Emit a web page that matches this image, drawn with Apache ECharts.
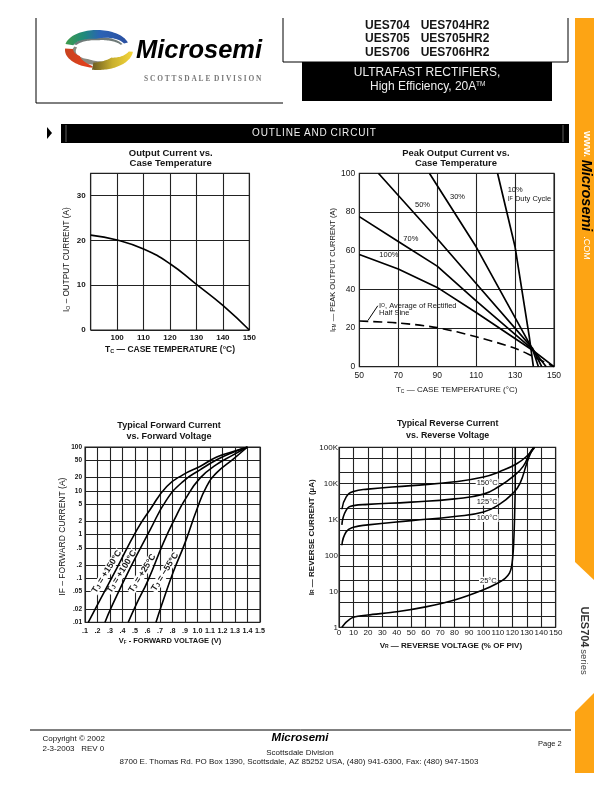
<!DOCTYPE html>
<html><head><meta charset="utf-8">
<style>html,body{margin:0;padding:0;background:#fff}#c{width:612px;height:792px}</style>
<script src="https://cdn.jsdelivr.net/npm/echarts@6/dist/echarts.min.js"></script>
</head><body><div id="c"></div>
<script>
// ---- Output Current vs. Case Temperature
var outputCurrent = [[90,21.2],[100,20.1],[110,18.1],[120,14.8],[130,10.2],[140,5.5],[150,0]];
// ---- Peak Output Current vs. Case Temperature
var duty10 = [[121,100],[130,62],[137.3,15.5],[139.4,0]];
var duty30 = [[86,100],[110,62],[139,9],[142,0]];
var duty50 = [[59.8,100],[90.6,65.5],[110,43],[139,9.5],[143.7,0]];
var duty70 = [[50,77.6],[70,64.7],[90,52],[110,34],[139,9],[146,0]];
var duty100 = [[50,58],[70,50.5],[90,41],[110,28],[139,8.5],[150,0]];
var averageIo = [[50,23.6],[70,22.6],[90,20.2],[110,15.5],[130,9.5],[139.4,5.2],[150,0]];
var ioLeader = [[54.5,24],[59.5,31.5]];
// ---- Typical Forward Current vs. Forward Voltage
var forward150 = [[.126,.01],[.193,.023],[.354,.17],[.514,1.27],[.62,3.7],[.754,12.6],[.886,23.5],[1.02,36],[1.154,59],[1.286,79],[1.4,100]];
var forward100 = [[.26,.01],[.314,.023],[.46,.17],[.62,1.27],[.754,6.3],[.886,16.5],[1.02,30],[1.154,51],[1.286,76],[1.4,100]];
var forward25 = [[.446,.01],[.514,.027],[.606,.093],[.727,.65],[.833,2.8],[.9,6.3],[1.02,19.5],[1.154,40],[1.286,66],[1.4,100]];
var forwardM55 = [[.668,.01],[.714,.025],[.806,.14],[.9,.65],[.994,3.7],[1.073,12.6],[1.154,26],[1.286,53],[1.4,100]];
// ---- Typical Reverse Current vs. Reverse Voltage
var reverse150 = [[2,1900],[5,4200],[10,5900],[20,6900],[50,8600],[80,11000],[100,15000],[111,21000],[123,35000],[131,62000],[135.5,100000]];
var reverse125 = [[2,700],[5,1800],[10,2400],[20,2600],[50,3000],[80,3700],[100,5000],[111,8300],[120.6,15600],[127.6,30000],[132,69000],[135,100000]];
var reverse100 = [[2,190],[5,450],[10,600],[20,700],[50,920],[80,1200],[100,1600],[111,2600],[120.6,5400],[125.3,10000],[130,36000],[132.2,62000],[134.7,100000]];
var reverse25 = [[2,1],[5,1.4],[10,1.9],[20,2.2],[40,2.7],[60,3.7],[80,5.7],[100,11],[110,17],[115,23],[118,32],[119.5,50],[120.7,150],[121.5,1000],[122,10000],[122,100000]];
// ---- Ticks
var forwardTicks = [.01,.02,.05,.1,.2,.5,1,2,5,10,20,50,100];
var reverseTicks = [1,2,5,10,20,50,100,200,500,1000,2000,5000,10000,20000,50000,100000];
var reverseLabels = [1,10,100,1000,10000,100000];

var SANS = '"Liberation Sans", Arial, sans-serif', INK = '#151515', GRID = '#222';
var layouts = [
  {left:90.7,top:173.3,width:158.6,height:156.7},
  {left:359.3,top:173.3,width:194.7,height:193.4},
  {left:85,top:447,width:175,height:175.3},
  {left:339,top:447.3,width:216.7,height:180}
];
function split(c,w){return {show:true,lineStyle:{color:c||GRID,width:w||1.1}};}
var common = {axisLine:{show:false},axisTick:{show:false},splitLine:split(),nameLocation:'middle'};
function ax(o){return Object.assign({},common,o);}
function nameStyle(size,pad,bold){
  return {fontFamily:SANS,fontSize:size,color:INK,fontWeight:bold?'bold':'normal',padding:pad,
    rich:{n:{fontFamily:SANS,fontSize:size,color:INK,fontWeight:bold?'bold':'normal'},
          s:{fontFamily:SANS,fontSize:size-3,color:INK,verticalAlign:'bottom',padding:[3,0,0,0]}}};
}
function lab(size,bold,margin,fmt,extra){
  return Object.assign({fontFamily:SANS,fontSize:size,color:INK,fontWeight:bold?'bold':'normal',margin:margin,formatter:fmt,hideOverlap:false},extra||{});
}
var line = function(idx,data,w,extra){
  return Object.assign({type:'line',xAxisIndex:idx,yAxisIndex:idx,data:data,symbol:'none',silent:true,
    lineStyle:{color:'#000',width:w||1.5},z:25},extra||{});
};
var curve = {smooth:0.5};

var option = {
  animation:false,backgroundColor:'#fff',
  grid:layouts.map(function(g){return Object.assign({show:true,borderColor:GRID,borderWidth:1.1,backgroundColor:'transparent',containLabel:false},g);}),
  xAxis:[
    ax({gridIndex:0,type:'value',min:90,max:150,interval:10,
      axisLabel:lab(8,true,4,function(v){return v===90?'':v;}),
      name:'{n|T}{s|C}{n| — CASE TEMPERATURE (°C)}',nameGap:15,nameTextStyle:nameStyle(8.5,[0,0,0,0],true)}),
    ax({gridIndex:1,type:'value',min:50,max:150,interval:20,
      axisLabel:lab(8.5,false,4),
      name:'{n|T}{s|C}{n| — CASE TEMPERATURE (°C)}',nameGap:19,nameTextStyle:nameStyle(8,[0,0,0,0],false)}),
    ax({gridIndex:2,type:'value',min:.1,max:1.5,interval:.1,
      axisLabel:lab(7.2,true,5,function(v){return v<0.99?v.toFixed(1).slice(1):v.toFixed(1);},{interval:0}),
      name:'{n|V}{s|F}{n| - FORWARD VOLTAGE (V)}',nameGap:15,nameTextStyle:nameStyle(7.5,[0,5,0,0],true)}),
    ax({gridIndex:3,type:'value',min:0,max:150,interval:10,
      axisLabel:lab(8,false,1,undefined,{interval:0}),
      name:'{n|V}{s|R}{n| — REVERSE VOLTAGE (% OF PIV)}',nameGap:14,nameTextStyle:nameStyle(8,[0,0,0,7],true)})
  ],
  yAxis:[
    ax({gridIndex:0,type:'value',min:0,max:35,interval:10,
      axisLabel:lab(8,true,5,function(v){return v>30?'':v;}),
      name:'{n|I}{s|O}{n| – OUTPUT CURRENT (A)}',nameGap:20,nameTextStyle:nameStyle(8.2,[0,16,0,0],false)}),
    ax({gridIndex:1,type:'value',min:0,max:100,interval:20,
      axisLabel:lab(8.5,false,4),
      name:'{n|I}{s|FM}{n| — PEAK OUTPUT CURRENT (A)}',nameGap:18,nameTextStyle:nameStyle(7.5,[0,0,0,0],false)}),
    ax({gridIndex:2,type:'log',logBase:10,min:.01,max:100,
      axisTick:{show:false,customValues:forwardTicks},
      axisLabel:lab(6.5,true,3,function(v){var s=String(+Number(v).toPrecision(3));return s.replace(/^0\./,'.');},{customValues:forwardTicks}),
      name:'IF – FORWARD CURRENT (A)',nameGap:11,nameTextStyle:nameStyle(8.5,[0,4,0,0],false)}),
    ax({gridIndex:3,type:'log',logBase:10,min:1,max:100000,
      axisTick:{show:false,customValues:reverseTicks},
      axisLabel:lab(8,false,1,function(v){v=+Number(v).toPrecision(3);return v>=1000?(v/1000)+'K':String(v);},{customValues:reverseLabels}),
      name:'{n|I}{s|R}{n| — REVERSE CURRENT (µA)}',nameGap:14,nameTextStyle:nameStyle(8,[0,0,0,0],true)})
  ],
  series:[
    line(0,outputCurrent,1.6,curve),
    line(1,duty10,1.7),line(1,duty30,1.7),line(1,duty50,1.7),line(1,duty70,1.7),line(1,duty100,1.7),
    line(1,averageIo,1.6,{smooth:0.3,lineStyle:{color:'#000',width:1.6,type:[9,5]}}),
    line(1,ioLeader,1),
    line(2,forward150,1.6,curve),line(2,forward100,1.6,curve),line(2,forward25,1.6,curve),line(2,forwardM55,1.6,curve),
    line(3,reverse150,1.6,curve),line(3,reverse125,1.6,curve),line(3,reverse100,1.6,curve),line(3,reverse25,1.6,{smooth:0.25})
  ]
};

// ---- page furniture
function T(x,y,str,size,o){
  o=o||{};
  var st={text:str,x:x,y:y,fontFamily:o.family||SANS,fontSize:size,fontWeight:o.bold?'bold':'normal',fontStyle:o.italic?'italic':'normal',
    fill:o.fill||INK,textAlign:o.align||'left',textVerticalAlign:'middle',verticalAlign:'middle'};
  if(o.bg){st.backgroundColor=o.bg;st.padding=[0,1,0,1];}
  if(o.rich)st.rich=o.rich;
  var el={type:'text',z:o.z||20,silent:true,style:st};
  if(o.rot){el.style.x=0;el.style.y=0;el.x=x;el.y=y;el.rotation=o.rot*Math.PI/180;}
  return el;
}
function R(x,y,w,h,fill,z){return {type:'rect',silent:true,z:z||1,shape:{x:x,y:y,width:w,height:h},style:{fill:fill}};}
function L(x1,y1,x2,y2,c,w){return {type:'line',silent:true,z:2,shape:{x1:x1,y1:y1,x2:x2,y2:y2},style:{stroke:c||'#000',lineWidth:w||1}};}
function P(pts,fill,z){return {type:'polygon',silent:true,z:z||3,shape:{points:pts},style:{fill:fill}};}
function band(cx,cy,rx,ry,a0,a1,w0,wm,w1){
  var out=[],inn=[],n=40;
  for(var i=0;i<=n;i++){var t=i/n,a=(a0+(a1-a0)*t)*Math.PI/180;
    var w=t<.5?w0+(wm-w0)*t*2:wm+(w1-wm)*(t-.5)*2;
    out.push([cx+rx*Math.cos(a),cy+ry*Math.sin(a)]);
    inn.unshift([cx+(rx-w)*Math.cos(a),cy+(ry-w*.8)*Math.sin(a)]);}
  return out.concat(inn);
}
function grad(x0,x1,stops){return {type:'linear',x:x0,y:0,x2:x1,y2:0,colorStops:stops.map(function(s){return {offset:s[0],color:s[1]};}),global:false};}
var sub={t:{fontFamily:SANS,fontSize:8.8,fontWeight:'bold',fill:INK},s:{fontFamily:SANS,fontSize:6,fontWeight:'bold',fill:INK,verticalAlign:'bottom'}};
var sub2={t:{fontFamily:SANS,fontSize:7.5,fill:INK},s:{fontFamily:SANS,fontSize:5,fill:INK}};
var G=[
  // header frames
  L(36,18,36,103),L(36,103,283,103),L(283,18,283,62),L(283,62,568,62),L(568,18,568,62),
  R(302,62,250,39,'#000'),
  T(427,72.5,'ULTRAFAST RECTIFIERS,',12,{fill:'#eee',align:'center'}),
  T(370,87,'High Efficiency, 20A',12,{fill:'#eee'}),
  T(476,84.5,'TM',6.5,{fill:'#eee'}),
  T(365,26,'UES704',12,{bold:true}),T(420.7,26,'UES704HR2',12,{bold:true}),
  T(365,39,'UES705',12,{bold:true}),T(420.7,39,'UES705HR2',12,{bold:true}),
  T(365,52.5,'UES706',12,{bold:true}),T(420.7,52.5,'UES706HR2',12,{bold:true}),
  // logo
  P(band(98,52,26,13,30,205,2,6,3),'#8a8a80',2),
  P(band(98,48,26,11,200,340,3,4,2),'#6f7a78',2),
  P(band(97,47,32,17,190,345,8,11,4),grad(0,1,[[0,'#3f9b4a'],[.3,'#1f8a7c'],[.55,'#2a63b5'],[1,'#2b4fa0']]),3),
  P(band(98,50,33,18,100,185,2,10,8),grad(0,1,[[0,'#c8431f'],[.8,'#e2401c'],[1,'#d2391c']]),3),
  P(band(98,50,35,20,5,100,4,13,9),grad(0,1,[[0,'#6b5a20'],[.5,'#c9b02e'],[1,'#f5d63a']]),3),
  // logo text
  T(136,51,'Microsemi',25.5,{bold:true,italic:true,fill:'#000'}),
  T(144,79,'S C O T T S D A L E  D I V I S I O N',7.4,{family:'"Liberation Serif", serif',bold:true,fill:'#777'}),
  // section bar
  R(61,124,508,19,'#000'),L(66,125,66,142,'#777',.8),L(563,125,563,142,'#777',.8),
  P([[47,127],[52,133],[47,139]],'#000'),
  T(314,133,'O\u200aU\u200aT\u200aL\u200aI\u200aN\u200aE\u200a A\u200aN\u200aD\u200a C\u200aI\u200aR\u200aC\u200aU\u200aI\u200aT',10,{fill:'#eee',align:'center'}),
  // sidebar
  P([[575,18],[594,18],[594,580],[575,562]],'#fda414',1),
  P([[575,712],[594,693],[594,773],[575,773]],'#fda414',1),
  T(586,144,'WWW.',8.5,{fill:'#fff',bold:true,rot:-90,align:'center'}),
  T(586,195.5,'Microsemi',14.5,{fill:'#000',bold:true,italic:true,rot:-90,align:'center'}),
  T(586,248,'.COM',9,{fill:'#fff',rot:-90,align:'center'}),
  T(584,627,'UES704',11,{bold:true,rot:-90,align:'center',fill:'#333'}),
  T(584,662,'series',9.5,{rot:-90,align:'center',fill:'#444'}),
  // chart titles
  T(170.7,153,'Output Current vs.',9.5,{bold:true,align:'center'}),T(170.7,163,'Case Temperature',9.5,{bold:true,align:'center'}),
  T(456,153.5,'Peak Output Current vs.',9.4,{bold:true,align:'center'}),T(456,163,'Case Temperature',9.5,{bold:true,align:'center'}),
  T(169,425.7,'Typical Forward Current',9,{bold:true,align:'center'}),T(169,436.7,'vs. Forward Voltage',9,{bold:true,align:'center'}),
  T(447.7,424,'Typical Reverse Current',8.9,{bold:true,align:'center'}),T(447.7,435.6,'vs. Reverse Voltage',8.9,{bold:true,align:'center'}),
  // chart 2 annotations
  T(507.7,190,'10%',7.5),T(507.7,199,'{t|I}{s|F}{t| Duty Cycle}',7.5,{rich:sub2}),
  T(450,196.7,'30%',7.5),T(415,205,'50%',7.5),T(403.3,239,'70%',7.5),T(379.3,255,'100%',7.5),
  T(379,305.7,'{t|I}{s|O}{t|, Average of Rectified}',7.5,{rich:sub2}),T(379,312.7,'Half Sine',7.5),
  // chart 3 annotations
  T(106.7,571.7,'{t|T}{s|J}{t| = +150°C}',8.8,{rich:sub,rot:58,align:'center',bold:true,bg:'#fff'}),
  T(121.7,571.7,'{t|T}{s|J}{t| = +100°C}',8.8,{rich:sub,rot:58,align:'center',bold:true,bg:'#fff'}),
  T(142.3,573.3,'{t|T}{s|J}{t| = +25°C}',8.8,{rich:sub,rot:58,align:'center',bold:true,bg:'#fff'}),
  T(165,571.7,'{t|T}{s|J}{t| = −55°C}',8.8,{rich:sub,rot:58,align:'center',bold:true,bg:'#fff'}),
  // chart 4 annotations
  T(475.7,482.7,'150°C',7.5,{bg:'#fff'}),T(475.7,501.7,'125°C',7.5,{bg:'#fff'}),T(475.7,518,'100°C',7.5,{bg:'#fff'}),T(479,580.7,'25°C',7.5,{bg:'#fff'}),
  // footer
  L(30,730,571,730,'#000',1),
  T(42.5,738.6,'Copyright © 2002',8),T(42.5,748.6,'2-3-2003   REV 0',8),
  T(300,738,'Microsemi',11.5,{bold:true,italic:true,align:'center',fill:'#000'}),
  T(300,753,'Scottsdale Division',8,{align:'center'}),
  T(299,762,'8700 E. Thomas Rd. PO Box 1390, Scottsdale, AZ 85252 USA, (480) 941-6300, Fax: (480) 947-1503',8,{align:'center'}),
  T(538,744,'Page 2',7.5)
];
option.graphic={elements:G};
var chart=echarts.init(document.getElementById('c'),null,{renderer:'canvas',width:612,height:792});
chart.setOption(option);
</script></body></html>
